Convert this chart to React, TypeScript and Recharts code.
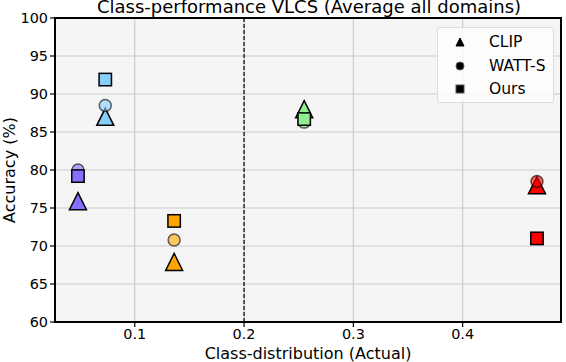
import {
  CartesianGrid,
  ReferenceArea,
  ReferenceLine,
  Scatter,
  ScatterChart,
  XAxis,
  YAxis
} from "recharts";

// one entry per class, left to right
const classNames = ["bird", "car", "chair", "dog", "person"];
const classShare = [0.048, 0.073, 0.136, 0.255, 0.468];
const classColors = ["#8470ff", "#87cefa", "#ffa500", "#90ee90", "#ff0000"];

const clipAcc = [75.9, 87.0, 67.9, 88.0, 78.0];
const wattAcc = [80.0, 88.5, 70.8, 86.3, 78.5];
const oursAcc = [79.2, 91.9, 73.3, 86.7, 71.0];

const xTicks = [0.1, 0.2, 0.3, 0.4];
const yTicks = [60, 65, 70, 75, 80, 85, 90, 95, 100];
const xDomain: [number, number] = [0.027, 0.49];
const yDomain: [number, number] = [60, 100];

const FONT = "'DejaVu Sans', sans-serif";

const build = (acc: number[]) =>
  classNames.map((name, i) => ({ name, x: classShare[i], y: acc[i], color: classColors[i] }));

function Triangle(p: any) {
  const { cx, cy, payload } = p;
  const h = 8.5;
  return (
    <path
      d={`M${cx},${cy - h} L${cx + h},${cy + h} L${cx - h},${cy + h} Z`}
      fill={payload.color}
      stroke="#000"
      strokeWidth={1.5}
    />
  );
}

function Circle(p: any) {
  const { cx, cy, payload } = p;
  return (
    <circle
      cx={cx}
      cy={cy}
      r={6}
      fill={payload.color}
      fillOpacity={0.6}
      stroke="#000"
      strokeOpacity={0.6}
      strokeWidth={1.5}
    />
  );
}

function Square(p: any) {
  const { cx, cy, payload } = p;
  const h = 6.2;
  return (
    <rect x={cx - h} y={cy - h} width={2 * h} height={2 * h} fill={payload.color} stroke="#000" strokeWidth={1.5} />
  );
}

function LegendBox() {
  const rows = [
    { label: "CLIP", icon: <path d="M5,1 L9,9 L1,9 Z" fill="#000" stroke="#000" strokeWidth={1} /> },
    { label: "WATT-S", icon: <circle cx={5} cy={5} r={4} fill="#000" stroke="#555" strokeWidth={1} /> },
    { label: "Ours", icon: <rect x={1} y={1} width={8} height={8} fill="#000" stroke="#555" strokeWidth={1} /> }
  ];
  return (
    <div
      style={{
        position: "absolute",
        left: 437,
        top: 27,
        width: 117,
        height: 76,
        background: "rgba(255,255,255,0.8)",
        border: "1px solid #dcdcdc",
        borderRadius: 3,
        boxSizing: "border-box",
        fontFamily: FONT,
        fontSize: 15.5,
        color: "#000"
      }}
    >
      {rows.map((r, i) => (
        <div key={r.label} style={{ position: "absolute", left: 0, top: 5 + i * 23.7, height: 18, width: 117 }}>
          <svg width={10} height={10} style={{ position: "absolute", left: 17, top: 4 }}>
            {r.icon}
          </svg>
          <span style={{ position: "absolute", left: 51, top: 0, lineHeight: "18px" }}>{r.label}</span>
        </div>
      ))}
    </div>
  );
}

export default function App() {
  const tick = { fill: "#000", fontSize: 14.4, fontFamily: FONT };
  return (
    <div style={{ position: "absolute", left: 0, top: 0, width: 566, height: 362, background: "#fff", overflow: "hidden" }}>
      <div
        style={{
          position: "absolute",
          left: 26,
          top: -4,
          width: 566,
          textAlign: "center",
          fontFamily: FONT,
          fontSize: 18,
          lineHeight: "22px",
          color: "#000",
          whiteSpace: "nowrap"
        }}
      >
        Class-performance VLCS (Average all domains)
      </div>
      <ScatterChart width={566} height={362} margin={{ top: 18, right: 5, bottom: 0, left: 0 }}>
        <CartesianGrid fill="#f5f5f5" stroke="#cccccc" strokeWidth={1.2} />
        <XAxis
          type="number"
          dataKey="x"
          domain={xDomain}
          ticks={xTicks}
          allowDataOverflow
          tickFormatter={(v: number) => v.toFixed(1)}
          tick={tick}
          tickSize={5}
          tickLine={{ stroke: "#000", strokeWidth: 1.2 }}
          axisLine={false}
          height={40}
          label={{ value: "Class-distribution (Actual)", position: "insideBottom", offset: 3, fill: "#000", fontSize: 16, fontFamily: FONT }}
        />
        <YAxis
          type="number"
          dataKey="y"
          domain={yDomain}
          ticks={yTicks}
          allowDataOverflow
          tick={tick}
          tickSize={5}
          tickLine={{ stroke: "#000", strokeWidth: 1.2 }}
          axisLine={false}
          width={55}
          label={{ value: "Accuracy (%)", angle: -90, position: "insideLeft", offset: 9, fill: "#000", fontSize: 16, fontFamily: FONT, style: { textAnchor: "middle" } }}
        />
        <ReferenceLine x={0.2} stroke="#000" strokeWidth={1.2} strokeDasharray="4 2" />
        <ReferenceArea x1={xDomain[0]} x2={xDomain[1]} y1={yDomain[0]} y2={yDomain[1]} fill="none" stroke="#000" strokeWidth={2} />
        <Scatter name="CLIP" data={build(clipAcc)} shape={Triangle} isAnimationActive={false} />
        <Scatter name="WATT-S" data={build(wattAcc)} shape={Circle} isAnimationActive={false} />
        <Scatter name="Ours" data={build(oursAcc)} shape={Square} isAnimationActive={false} />
      </ScatterChart>
      <LegendBox />
    </div>
  );
}
